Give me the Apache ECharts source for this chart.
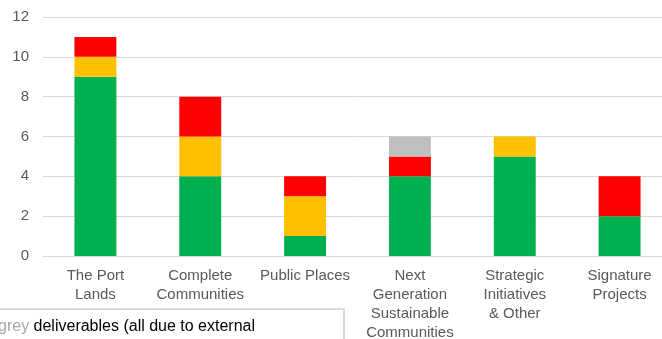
<!DOCTYPE html>
<html lang="en">
<head>
    <meta charset="UTF-8">
    <title>Deliverables by Program</title>
    <style>
      html, body { margin: 0; padding: 0; background: #fff; overflow: hidden; }
      #main { width: 700px; height: 339px; }
    </style>
</head>
<body>
<div id="main"></div>
<script src="https://cdn.jsdelivr.net/npm/echarts@6/dist/echarts.min.js"></script>
<script>
  var categories = ['The Port\nLands', 'Complete\nCommunities', 'Public Places',
    'Next\nGeneration\nSustainable\nCommunities', 'Strategic\nInitiatives\n& Other', 'Signature\nProjects'];
  var greenVals = [9, 4, 1, 4, 5, 2];
  var yellowVals = [1, 2, 2, 0, 1, 0];
  var redVals = [1, 2, 1, 1, 0, 2];
  var greyVals = [0, 0, 0, 1, 0, 0];
  var yTicks = [0, 2, 4, 6, 8, 10, 12];

  var myChart = echarts.init(document.getElementById('main'));
  var font = 'Liberation Sans, Arial, sans-serif';

  function stackSeries(name, vals, color) {
    return {
      name: name,
      type: 'bar',
      stack: 'total',
      barWidth: '40%',
      itemStyle: { color: color },
      data: vals
    };
  }

  option = {
    animation: false,
    // chart is wider than the window; the right part is clipped like the reference
    grid: { left: 43, right: 28, top: 17, bottom: 83, containLabel: false, outerBoundsMode: 'none' },
    xAxis: {
      type: 'category',
      data: categories,
      axisTick: { show: false },
      axisLine: { lineStyle: { color: '#D9D9D9', width: 1 } },
      axisLabel: {
        color: '#595959', fontSize: 15, fontFamily: font,
        lineHeight: 19, margin: 10, interval: 0
      }
    },
    yAxis: {
      type: 'value',
      min: yTicks[0],
      max: yTicks[yTicks.length - 1],
      interval: 2,
      axisLine: { show: false },
      axisTick: { show: false },
      splitLine: { lineStyle: { color: '#D9D9D9', width: 1 } },
      axisLabel: { color: '#595959', fontSize: 15, fontFamily: font, margin: 14 }
    },
    // partially visible note box at the bottom
    graphic: [
      {
        type: 'rect',
        shape: { x: -10, y: 309, width: 354, height: 60 },
        style: { fill: '#fff', stroke: '#D0D0D0', lineWidth: 1.5 }
      },
      {
        type: 'text',
        x: -2, y: 319,
        style: {
          text: '{g|grey} deliverables (all due to external',
          fontSize: 16, fontFamily: font, fill: '#000',
          rich: { g: { fill: '#A6A6A6', fontSize: 16, fontFamily: font } }
        }
      }
    ],
    series: [
      stackSeries('Green', greenVals, '#00B050'),
      stackSeries('Yellow', yellowVals, '#FFC000'),
      stackSeries('Red', redVals, '#FF0000'),
      stackSeries('Grey', greyVals, '#BFBFBF')
    ]
  };
  myChart.setOption(option);
</script>
</body>
</html>
